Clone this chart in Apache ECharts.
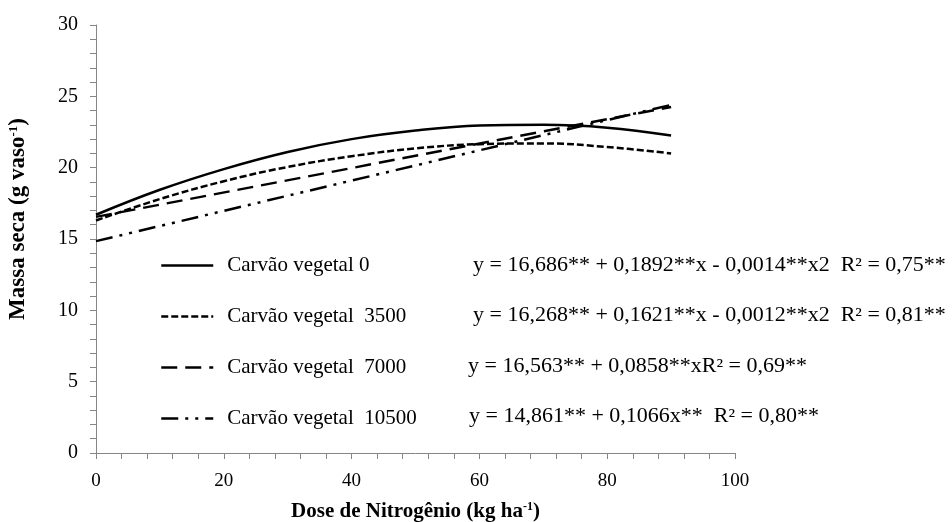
<!DOCTYPE html>
<html><head><meta charset="utf-8">
<script src="https://cdn.jsdelivr.net/npm/echarts@6/dist/echarts.min.js"></script>
<style>html,body{margin:0;padding:0;background:#fff}#chart{width:952px;height:522px}</style>
</head><body><div id="chart"></div>
<script>
const doses = [0, 10, 20, 30, 40, 50, 60, 70, 80, 90];
const doseEnds = [0, 90];
const seriesNames = ['Carvão vegetal 0', 'Carvão vegetal  3500', 'Carvão vegetal  7000', 'Carvão vegetal  10500'];
const carvao0 = [16.7, 18.45, 19.9, 21.1, 22.0, 22.6, 22.95, 23.0, 22.8, 22.25];
const carvao3500 = [16.3, 17.8, 19.05, 20.05, 20.8, 21.35, 21.65, 21.7, 21.45, 21.0];
const carvao7000 = [16.55, 24.25];
const carvao10500 = [14.85, 24.4];
const xTickLabels = [0, 20, 40, 60, 80, 100];
const yTickLabels = [0, 5, 10, 15, 20, 25, 30];
const equations = [
  'y = 16,686** + 0,1892**x - 0,0014**x2  R² = 0,75**',
  'y = 16,268** + 0,1621**x - 0,0012**x2  R² = 0,81**',
  'y = 16,563** + 0,0858**xR² = 0,69**',
  'y = 14,861** + 0,1066x**  R² = 0,80**'
];
const xTitle = 'Dose de Nitrogênio (kg ha{sup|-1})';
const yTitle = 'Massa seca (g vaso{sup|-1})';

const FONT = "'Liberation Serif', 'Times New Roman', serif";
const dashes = ['solid', [7, 3], [16, 8], [17, 7, 3, 7, 3, 7]];
const eqPos = [[473, 266], [473, 316], [468, 367], [469, 417]];

function pairs(xs, ys) { return xs.map((x, i) => [x, ys[i]]); }
const seriesData = [pairs(doses, carvao0), pairs(doses, carvao3500), pairs(doseEnds, carvao7000), pairs(doseEnds, carvao10500)];

const chart = echarts.init(document.getElementById('chart'), null, {renderer: 'canvas'});
const axisCommon = {
  axisLine: {show: true, lineStyle: {color: '#868686', width: 1}},
  axisTick: {show: true, inside: false, length: 6, lineStyle: {color: '#868686'}},
  minorTick: {show: true, splitNumber: 5, length: 6, lineStyle: {color: '#868686'}},
  splitLine: {show: false},
  minorSplitLine: {show: false}
};
chart.setOption({
  animation: false,
  backgroundColor: '#fff',
  textStyle: {fontFamily: FONT},
  grid: {left: 96, right: 217, top: 25, bottom: 69, containLabel: false, outerBoundsMode: 'none'},
  xAxis: Object.assign({
    type: 'value', min: xTickLabels[0], max: xTickLabels[xTickLabels.length - 1],
    interval: xTickLabels[1] - xTickLabels[0],
    axisLabel: {color: '#000', fontSize: 19, fontFamily: FONT, margin: 19},
    name: xTitle, nameLocation: 'middle', nameGap: 48,
    nameTextStyle: {color: '#000', fontSize: 21, fontWeight: 'bold', fontFamily: FONT,
      rich: {sup: {fontSize: 12, fontWeight: 'bold', fontFamily: FONT, color: '#000', verticalAlign: 'top', padding: [0, 0, 8, 0]}}}
  }, axisCommon),
  yAxis: Object.assign({
    type: 'value', min: yTickLabels[0], max: yTickLabels[yTickLabels.length - 1],
    interval: yTickLabels[1] - yTickLabels[0],
    axisLabel: {color: '#000', fontSize: 20, fontFamily: FONT, margin: 18},
    name: yTitle, nameLocation: 'middle', nameGap: 66, nameRotate: 90,
    nameTextStyle: {color: '#000', fontSize: 23, fontWeight: 'bold', fontFamily: FONT, padding: [0, 0, 0, 40],
      rich: {sup: {fontSize: 13, fontWeight: 'bold', fontFamily: FONT, color: '#000', verticalAlign: 'top', padding: [0, 0, 8, 0]}}}
  }, axisCommon),
  legend: {
    orient: 'vertical', left: 160, top: 255, padding: 0,
    itemWidth: 52, itemHeight: 14, itemGap: 30,
    data: seriesNames,
    textStyle: {color: '#000', fontSize: 21, fontFamily: FONT, padding: [0, 0, 0, 9]},
    lineStyle: {width: 2.5},
    itemStyle: {opacity: 0, borderWidth: 0}
  },
  series: seriesNames.map((name, i) => ({
    name: name, type: 'line', data: seriesData[i], smooth: i < 2 ? 0.4 : false,
    symbol: 'none', showSymbol: false,
    lineStyle: {color: '#000', width: 2.5, type: dashes[i], cap: 'butt'},
    itemStyle: {color: '#000'}
  })),
  graphic: equations.map((t, i) => ({
    type: 'text', x: eqPos[i][0], y: eqPos[i][1], scaleX: 1.1,
    style: {text: t, fill: '#000', fontSize: 20, fontFamily: FONT, verticalAlign: 'middle', align: 'left'}
  }))
});
</script></body></html>
